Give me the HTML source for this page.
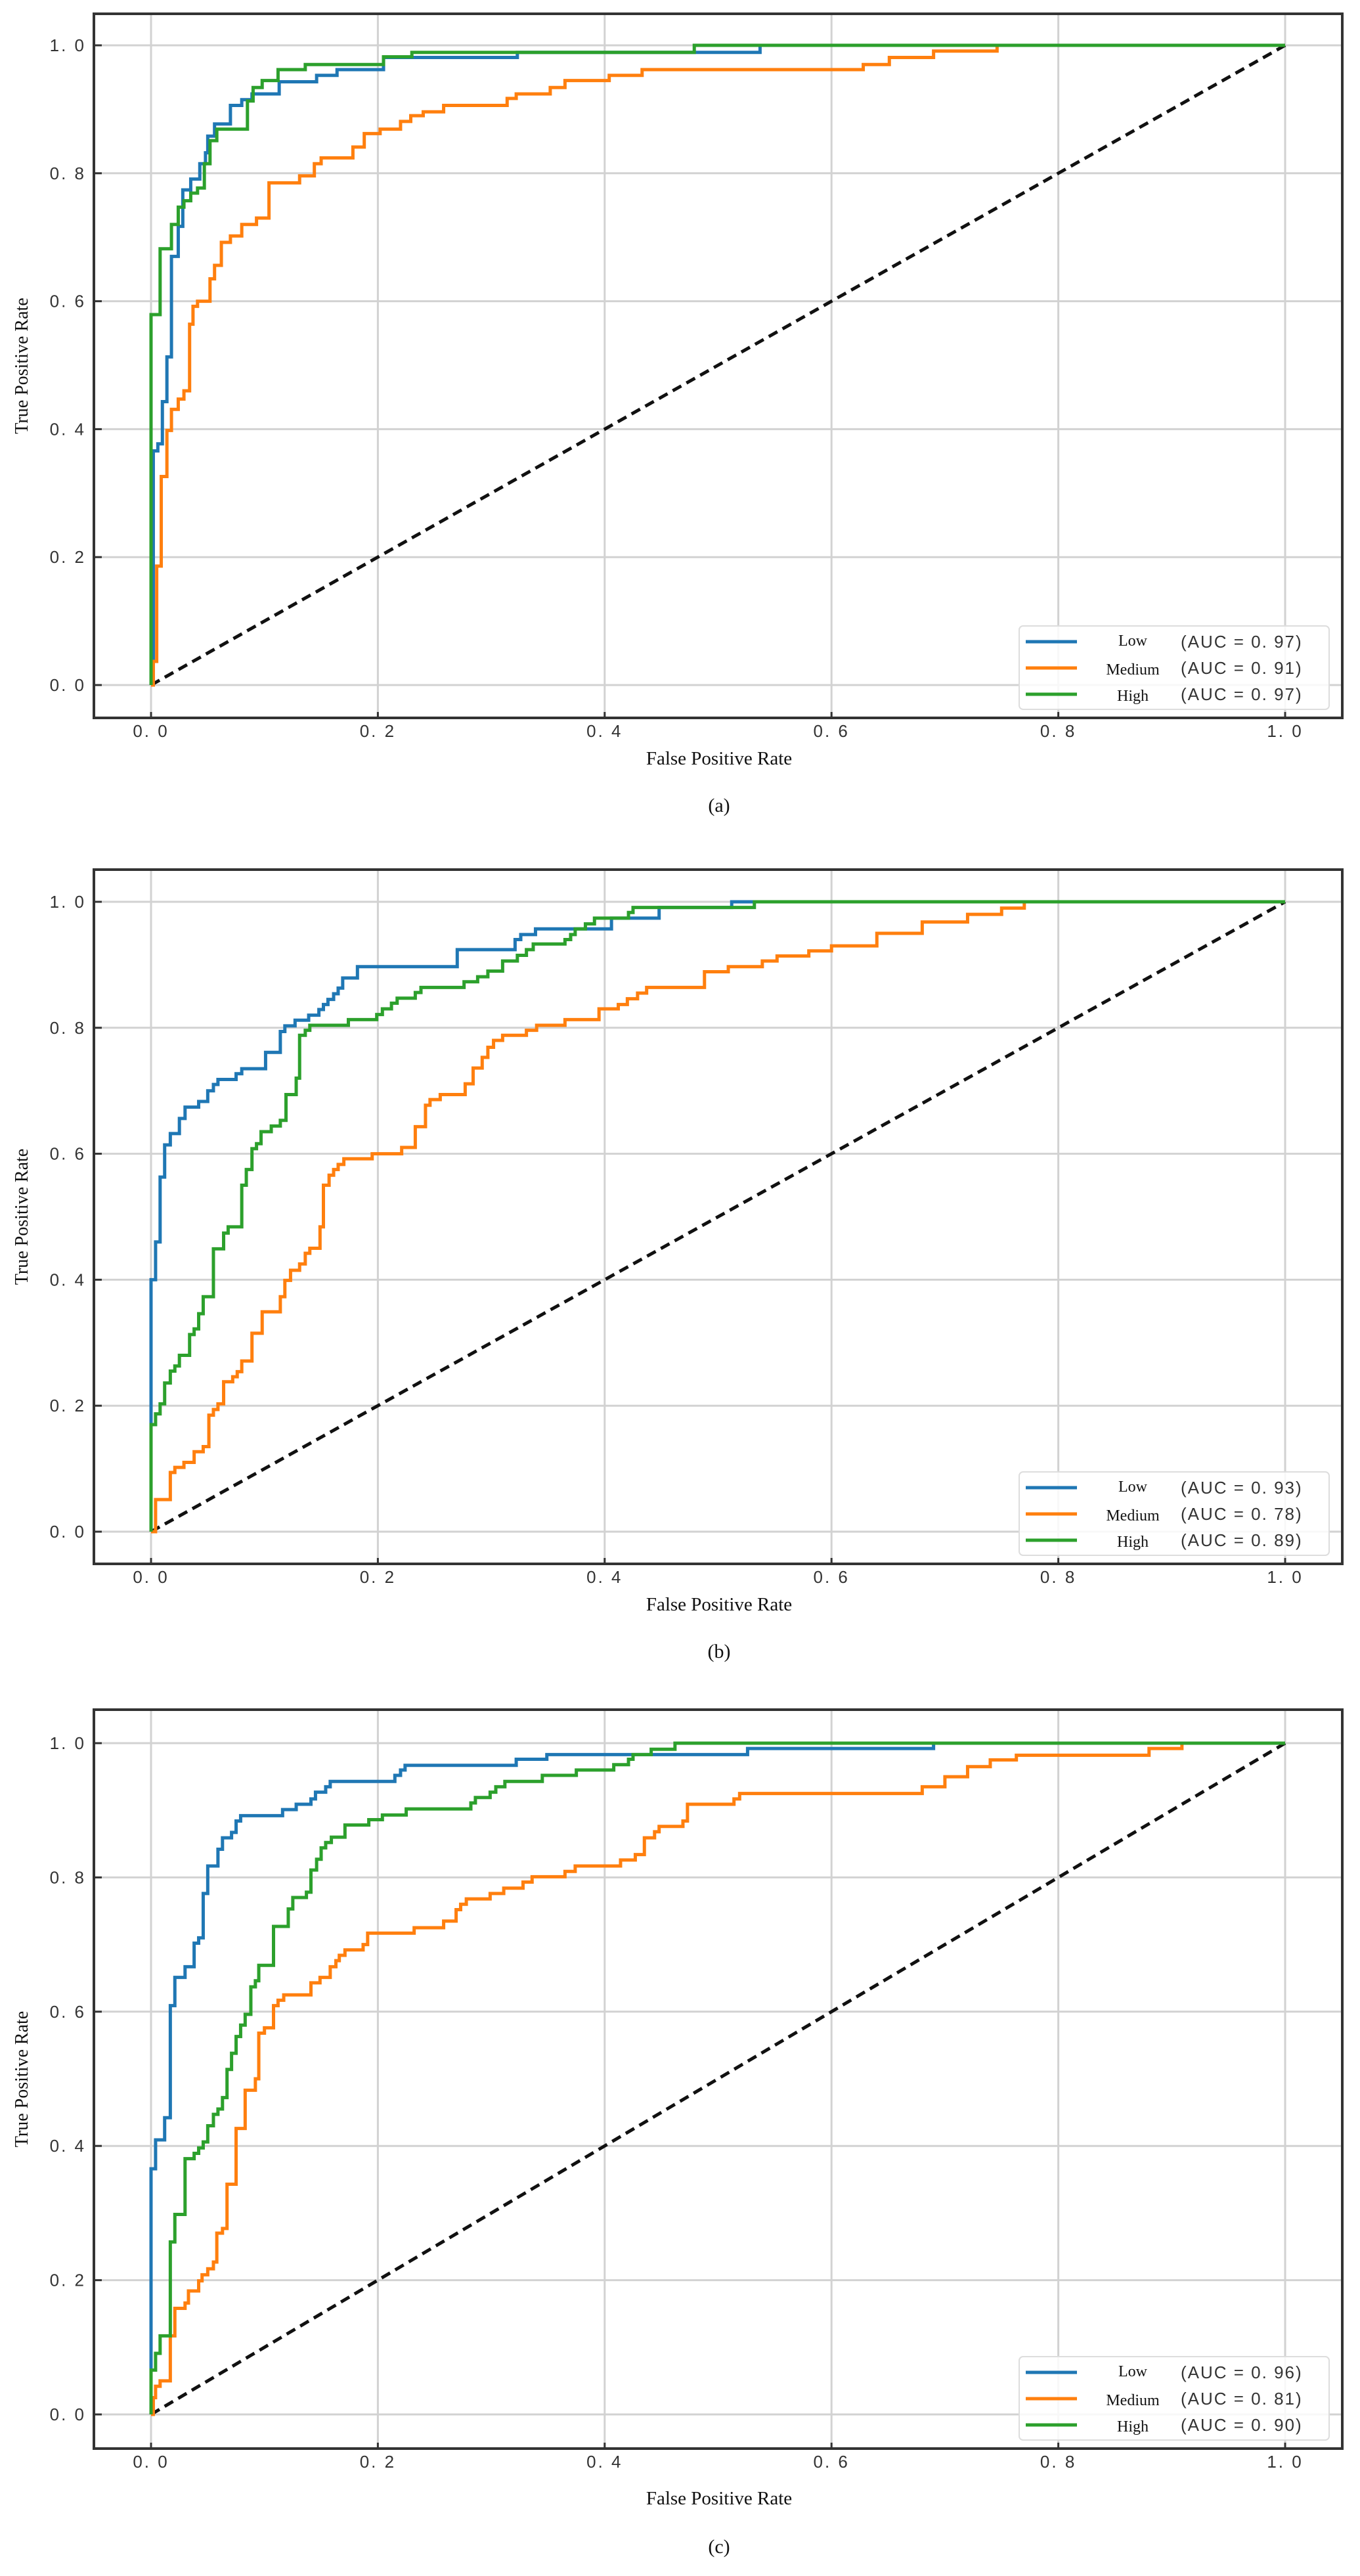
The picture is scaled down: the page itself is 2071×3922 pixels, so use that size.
<!DOCTYPE html>
<html><head><meta charset="utf-8">
<style>
html,body{margin:0;padding:0;background:#fff;}
svg{display:block;}
.tick{font-family:"Liberation Sans","Noto Sans CJK SC",sans-serif;font-size:26px;fill:#333;letter-spacing:3px;}
.lab{font-family:"Liberation Serif",serif;fill:#111;}
.auc{font-family:"Liberation Sans","Noto Sans CJK SC",sans-serif;font-size:26px;fill:#333;letter-spacing:2px;}
</style></head>
<body>
<svg id="chart" xmlns="http://www.w3.org/2000/svg" width="2071" height="3922" viewBox="0 0 2071 3922"></svg>
<script>
// ---- Panel (a) data ----
const aLowFpr=[0,0.002,0.006,0.010,0.014,0.018,0.024,0.028,0.035,0.043,0.048,0.050,0.056,0.070,0.080,0.089,0.113,0.146,0.164,0.205,0.323,0.537];
const aLowTpr=[0,0.366,0.377,0.443,0.513,0.670,0.717,0.774,0.791,0.815,0.832,0.858,0.877,0.906,0.915,0.924,0.943,0.953,0.962,0.981,0.989,1.0];
const aMedFpr=[0,0.002,0.005,0.009,0.014,0.018,0.024,0.029,0.034,0.037,0.041,0.052,0.056,0.062,0.070,0.080,0.093,0.104,0.131,0.144,0.150,0.178,0.188,0.202,0.220,0.229,0.240,0.258,0.314,0.322,0.352,0.365,0.404,0.433,0.628,0.651,0.690,0.746];
const aMedTpr=[0,0.037,0.186,0.326,0.398,0.431,0.447,0.460,0.564,0.592,0.600,0.635,0.656,0.692,0.702,0.720,0.730,0.785,0.796,0.815,0.824,0.841,0.862,0.869,0.881,0.890,0.896,0.906,0.917,0.924,0.934,0.945,0.953,0.962,0.970,0.981,0.991,1.0];
const aHighFpr=[0,0.008,0.018,0.024,0.029,0.035,0.041,0.047,0.052,0.058,0.085,0.090,0.098,0.112,0.136,0.205,0.230,0.479];
const aHighTpr=[0.579,0.682,0.720,0.747,0.757,0.769,0.777,0.815,0.851,0.869,0.913,0.934,0.945,0.962,0.970,0.982,0.989,1.0];
// ---- Panel (b) data ----
const bLowFpr=[0,0.004,0.008,0.012,0.017,0.025,0.030,0.042,0.050,0.055,0.059,0.075,0.080,0.101,0.114,0.118,0.127,0.139,0.148,0.152,0.156,0.161,0.165,0.169,0.182,0.270,0.321,0.326,0.339,0.406,0.448,0.512];
const bLowTpr=[0.400,0.460,0.563,0.614,0.632,0.656,0.674,0.683,0.700,0.710,0.718,0.727,0.735,0.761,0.794,0.803,0.812,0.820,0.829,0.837,0.845,0.854,0.863,0.879,0.897,0.924,0.940,0.948,0.957,0.974,0.991,1.0];
const bMedFpr=[0,0.004,0.017,0.021,0.029,0.038,0.046,0.051,0.055,0.059,0.064,0.072,0.076,0.080,0.089,0.098,0.114,0.118,0.123,0.131,0.136,0.140,0.149,0.152,0.157,0.161,0.165,0.170,0.195,0.221,0.233,0.242,0.246,0.255,0.277,0.284,0.292,0.297,0.302,0.310,0.331,0.340,0.365,0.395,0.412,0.420,0.429,0.437,0.488,0.509,0.539,0.552,0.580,0.600,0.640,0.680,0.720,0.750,0.770];
const bMedTpr=[0,0.051,0.094,0.102,0.110,0.127,0.135,0.185,0.194,0.203,0.238,0.246,0.254,0.271,0.315,0.349,0.373,0.399,0.415,0.425,0.442,0.450,0.484,0.550,0.566,0.575,0.583,0.592,0.600,0.610,0.643,0.677,0.686,0.694,0.711,0.736,0.753,0.769,0.780,0.788,0.796,0.804,0.813,0.830,0.837,0.846,0.855,0.864,0.889,0.897,0.906,0.914,0.922,0.930,0.950,0.968,0.980,0.990,1.0];
const bHighFpr=[0,0.004,0.008,0.012,0.017,0.021,0.025,0.034,0.038,0.042,0.046,0.055,0.064,0.068,0.080,0.084,0.089,0.093,0.097,0.106,0.114,0.119,0.128,0.131,0.136,0.140,0.174,0.199,0.204,0.212,0.217,0.233,0.238,0.276,0.288,0.297,0.310,0.323,0.331,0.337,0.365,0.370,0.374,0.383,0.391,0.421,0.425,0.532];
const bHighTpr=[0.170,0.187,0.203,0.236,0.255,0.263,0.280,0.313,0.322,0.346,0.373,0.449,0.474,0.484,0.550,0.575,0.608,0.616,0.635,0.644,0.653,0.694,0.720,0.788,0.796,0.804,0.813,0.821,0.830,0.839,0.847,0.856,0.864,0.873,0.881,0.890,0.906,0.915,0.924,0.933,0.940,0.948,0.957,0.965,0.974,0.983,0.991,1.0];
// ---- Panel (c) data ----
const cLowFpr=[0,0.004,0.012,0.017,0.021,0.030,0.038,0.042,0.046,0.050,0.059,0.063,0.071,0.075,0.079,0.116,0.128,0.141,0.145,0.154,0.158,0.215,0.220,0.224,0.322,0.349,0.526,0.690];
const cLowTpr=[0.366,0.409,0.442,0.609,0.651,0.667,0.702,0.710,0.776,0.817,0.842,0.859,0.867,0.884,0.892,0.901,0.909,0.917,0.927,0.935,0.943,0.952,0.960,0.967,0.976,0.983,0.992,1.0];
const cMedFpr=[0,0.002,0.004,0.008,0.017,0.021,0.030,0.033,0.042,0.045,0.050,0.055,0.058,0.063,0.067,0.075,0.083,0.092,0.095,0.100,0.108,0.112,0.117,0.141,0.149,0.158,0.163,0.166,0.171,0.187,0.191,0.232,0.258,0.269,0.273,0.278,0.299,0.311,0.328,0.336,0.365,0.374,0.414,0.427,0.435,0.444,0.448,0.469,0.473,0.514,0.519,0.680,0.700,0.720,0.740,0.763,0.880,0.909];
const cMedTpr=[0,0.025,0.042,0.050,0.117,0.158,0.166,0.184,0.199,0.208,0.217,0.227,0.270,0.277,0.343,0.426,0.483,0.500,0.568,0.576,0.609,0.617,0.625,0.643,0.651,0.667,0.676,0.684,0.692,0.700,0.717,0.725,0.735,0.752,0.760,0.768,0.776,0.784,0.793,0.801,0.809,0.817,0.826,0.834,0.859,0.868,0.876,0.884,0.909,0.917,0.925,0.935,0.950,0.965,0.975,0.982,0.992,1.0];
const cHighFpr=[0,0.004,0.008,0.017,0.021,0.030,0.038,0.042,0.046,0.050,0.055,0.059,0.063,0.067,0.071,0.075,0.079,0.083,0.088,0.092,0.095,0.108,0.121,0.125,0.137,0.141,0.146,0.150,0.154,0.159,0.171,0.192,0.204,0.225,0.282,0.286,0.299,0.304,0.312,0.345,0.375,0.408,0.421,0.425,0.441,0.462];
const cHighTpr=[0.066,0.091,0.117,0.257,0.298,0.381,0.389,0.397,0.406,0.430,0.447,0.455,0.472,0.514,0.538,0.563,0.580,0.596,0.637,0.646,0.669,0.727,0.753,0.770,0.778,0.811,0.827,0.844,0.852,0.860,0.878,0.886,0.893,0.902,0.911,0.919,0.927,0.935,0.943,0.952,0.960,0.968,0.976,0.983,0.991,1.0];
const classNames=["Low","Medium","High"];
const aucA=["0. 97","0. 91","0. 97"];
const aucB=["0. 93","0. 78","0. 89"];
const aucC=["0. 96","0. 81","0. 90"];
const tickVals=[0,0.2,0.4,0.6,0.8,1.0];
const tickLabels=["0. 0","0. 2","0. 4","0. 6","0. 8","1. 0"];
const colors=["#1f77b4","#ff7f0e","#2ca02c"];

const NS="http://www.w3.org/2000/svg";
const svg=document.getElementById("chart");
function mk(tag,attrs,parent){const e=document.createElementNS(NS,tag);for(const k in attrs)e.setAttribute(k,attrs[k]);(parent||svg).appendChild(e);return e;}

const panels=[
 {id:"a",top:21,bottom:1093,y1:69,y0:1043,xl:1154,cap:1226,auc:aucA,series:[[aLowFpr,aLowTpr],[aMedFpr,aMedTpr],[aHighFpr,aHighTpr]]},
 {id:"b",top:1324,bottom:2381,y1:1373,y0:2332,xl:2442,cap:2514,auc:aucB,series:[[bLowFpr,bLowTpr],[bMedFpr,bMedTpr],[bHighFpr,bHighTpr]]},
 {id:"c",top:2603,bottom:3728,y1:2654,y0:3676,xl:3803,cap:3877,auc:aucC,series:[[cLowFpr,cLowTpr],[cMedFpr,cMedTpr],[cHighFpr,cHighTpr]]}
];
const L=143,R=2044,X0=230,X1=1957;
panels.forEach(p=>{
 const g=mk("g",{});
 
 
 const xs=v=>X0+v*(X1-X0);
 const ys=v=>p.y0-v*(p.y0-p.y1);
 tickVals.forEach((v,i)=>{
  const gx=mk("line",{x1:xs(v),x2:xs(v),y1:p.top,y2:p.bottom,stroke:"#d2d2d2","stroke-width":3},g);
  
  
  const gy=mk("line",{x1:L,x2:R,y1:ys(v),y2:ys(v),stroke:"#d2d2d2","stroke-width":3},g);
  
  
 });
 const d=mk("line",{x1:xs(0),y1:ys(0),x2:xs(1),y2:ys(1),stroke:"#111","stroke-width":5,"stroke-dasharray":"15,9"},g);
 
 
 p.series.forEach((s,k)=>{
  const f=s[0],t=s[1];
  let dstr="M"+xs(0)+","+ys(0);
  for(let i=0;i<f.length;i++){dstr+=" H"+xs(f[i])+" V"+ys(t[i]);}
  dstr+=" H"+xs(1);
  const path=mk("path",{d:dstr,fill:"none",stroke:colors[k],"stroke-width":5,"stroke-linejoin":"miter"},g);
  
  
 });
 const fr=mk("rect",{x:L,y:p.top,width:R-L,height:p.bottom-p.top,fill:"none",stroke:"#333","stroke-width":4},g);
 
 
 tickVals.forEach((v,i)=>{
  mk("line",{x1:xs(v),x2:xs(v),y1:p.bottom,y2:p.bottom-9,stroke:"#333","stroke-width":3},g);
  mk("line",{x1:L,x2:L+12,y1:ys(v),y2:ys(v),stroke:"#333","stroke-width":3},g);
  const tx=mk("text",{x:xs(v),y:p.bottom+29,"text-anchor":"middle",class:"tick"},g);
  tx.textContent=tickLabels[i];
  
  
  const ty=mk("text",{x:131,y:ys(v)+9,"text-anchor":"end",class:"tick"},g);
  ty.textContent=tickLabels[i];
  
  
 });
 const xl=mk("text",{x:1095,y:p.xl+10,"text-anchor":"middle",class:"lab","font-size":29},g);
 xl.textContent="False Positive Rate";
 
 
 const cy=(p.top+p.bottom)/2;
 const yl=mk("text",{x:0,y:0,"text-anchor":"middle",class:"lab","font-size":28,transform:"translate(42,"+cy+") rotate(-90)"},g);
 yl.textContent="True Positive Rate";
 
 
 const cp=mk("text",{x:1095,y:p.cap+10,"text-anchor":"middle",class:"lab","font-size":30},g);
 cp.textContent="("+p.id+")";
 
 
 const lb=p.bottom-13, lt=lb-127;
 const lg=mk("g",{},g);
 
 
 mk("rect",{x:1552,y:lt,width:472,height:127,rx:6,fill:"rgba(255,255,255,0.85)",stroke:"#ddd","stroke-width":2},lg);
 classNames.forEach((n,k)=>{
  const ry=lt+24+k*40;
  const ln=mk("line",{x1:1562,x2:1640,y1:ry,y2:ry,stroke:colors[k],"stroke-width":5},lg);
  
  
  const t=mk("text",{x:1725,y:ry+(k===0?6:10),"text-anchor":"middle",class:"lab","font-size":24},lg);
  t.textContent=n;
  
  
  const a=mk("text",{x:1798,y:ry+9,class:"auc"},lg);
  a.textContent="(AUC = "+p.auc[k]+")";
  
  
 });
});
</script>
</body></html>
